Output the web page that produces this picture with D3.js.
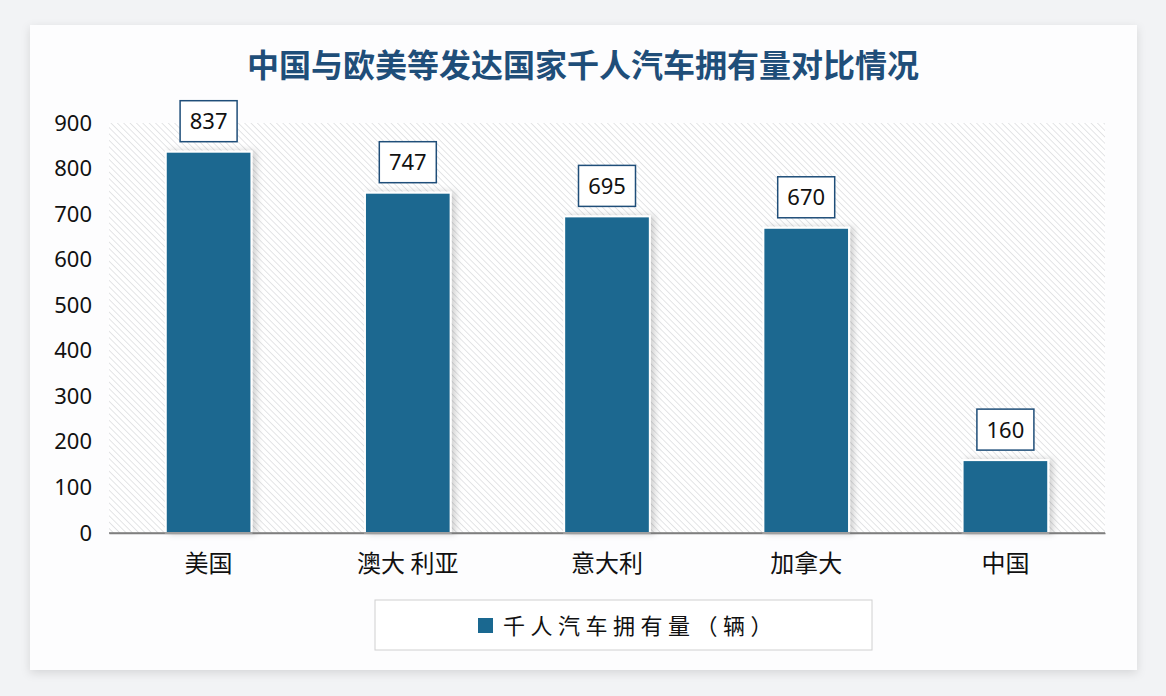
<!DOCTYPE html>
<html>
<head>
<meta charset="utf-8">
<script src="https://cdn.jsdelivr.net/npm/d3@7"></script>
<style>
  body { margin: 0; background: #f2f3f5; font-family: "Noto Sans CJK SC", "Noto Sans", sans-serif; }
</style>
</head>
<body>
<div id="chart"></div>
<script>
var countries = ["美国", "澳大 利亚", "意大利", "加拿大", "中国"];
var carsPerThousand = [837, 747, 695, 670, 160];
var yTicks = [0, 100, 200, 300, 400, 500, 600, 700, 800, 900];
var chartTitle = "中国与欧美等发达国家千人汽车拥有量对比情况";
var seriesName = "千人汽车拥有量（辆）";

var svgWidth = 1166;
var svgHeight = 696;

var plot = { left: 109, right: 1105, top: 123, bottom: 533 };

var svg = d3.select("#chart")
  .append("svg")
  .attr("width", svgWidth)
  .attr("height", svgHeight);

var defs = svg.append("defs");

// card shadow
var shadow = defs.append("filter").attr("id", "cardShadow")
  .attr("x", "-5%").attr("y", "-5%").attr("width", "110%").attr("height", "115%");
shadow.append("feDropShadow")
  .attr("dx", 0).attr("dy", 3).attr("stdDeviation", 5)
  .attr("flood-color", "#000").attr("flood-opacity", 0.12);

// bar shadow
var barShadow = defs.append("filter").attr("id", "barShadow")
  .attr("x", "-20%").attr("y", "-20%").attr("width", "150%").attr("height", "140%");
barShadow.append("feDropShadow")
  .attr("dx", 4).attr("dy", 0).attr("stdDeviation", 3)
  .attr("flood-color", "#000").attr("flood-opacity", 0.18);

// hatch pattern for plot area
var hatch = defs.append("pattern")
  .attr("id", "hatch")
  .attr("patternUnits", "userSpaceOnUse")
  .attr("width", 4.5).attr("height", 4.5)
  .attr("patternTransform", "rotate(-45)");
hatch.append("rect").attr("width", 4.5).attr("height", 4.5).attr("fill", "#ffffff");
hatch.append("line")
  .attr("x1", 0).attr("y1", 0).attr("x2", 0).attr("y2", 4.5)
  .attr("stroke", "#d6d7da").attr("stroke-width", 1.3);

// card
svg.append("rect")
  .attr("x", 30).attr("y", 25)
  .attr("width", 1107).attr("height", 645)
  .attr("fill", "#fdfdfe")
  .attr("filter", "url(#cardShadow)");

// title
svg.append("text")
  .attr("x", 583).attr("y", 77)
  .attr("text-anchor", "middle")
  .attr("font-size", "32px")
  .attr("font-weight", "bold")
  .attr("fill", "#1f4e79")
  .text(chartTitle);

// scales
var xScale = d3.scaleBand()
  .domain(countries)
  .range([plot.left, plot.right])
  .paddingInner(0.57)
  .paddingOuter(0.285);

var yScale = d3.scaleLinear()
  .domain([0, 900])
  .range([plot.bottom, plot.top]);

// hatched plot area
svg.append("rect")
  .attr("x", plot.left).attr("y", plot.top)
  .attr("width", plot.right - plot.left)
  .attr("height", plot.bottom - plot.top)
  .attr("fill", "url(#hatch)");

// axes
var leftAxis = d3.axisLeft(yScale).tickValues(yTicks).tickSize(0).tickPadding(17);
var yAxisG = svg.append("g")
  .attr("transform", `translate(${plot.left}, 0)`)
  .call(leftAxis);
yAxisG.select(".domain").remove();
yAxisG.selectAll("text")
  .attr("font-size", "22px")
  .attr("fill", "#111")
  .attr("font-family", "\"Noto Sans\", sans-serif");

var bottomAxis = d3.axisBottom(xScale).tickSize(0).tickPadding(22);
var xAxisG = svg.append("g")
  .attr("transform", `translate(0, ${plot.bottom})`)
  .call(bottomAxis);
xAxisG.select(".domain").attr("stroke", "#7f7f7f").attr("stroke-width", 1.5);
xAxisG.selectAll("text")
  .attr("font-size", "24px")
  .attr("fill", "#111")
  .attr("font-family", "\"Noto Sans CJK SC\", sans-serif");

var data = countries.map(function(c, i) { return { name: c, value: carsPerThousand[i] }; });

// bars
svg.selectAll(".bar")
  .data(data)
  .enter()
  .append("rect")
  .attr("class", "bar")
  .attr("x", d => xScale(d.name))
  .attr("y", d => yScale(d.value))
  .attr("width", xScale.bandwidth())
  .attr("height", d => plot.bottom - yScale(d.value))
  .attr("fill", "#1a6890")
  .attr("stroke", "#ffffff")
  .attr("stroke-width", 2)
  .attr("filter", "url(#barShadow)");

// redraw baseline above bars
svg.append("line")
  .attr("x1", plot.left).attr("x2", plot.right)
  .attr("y1", plot.bottom).attr("y2", plot.bottom)
  .attr("stroke", "#7f7f7f").attr("stroke-width", 1.5);

// value labels in boxes
var labelW = 57, labelH = 41;
var labels = svg.selectAll(".valueLabel")
  .data(data)
  .enter()
  .append("g")
  .attr("class", "valueLabel")
  .attr("transform", d => `translate(${xScale(d.name) + xScale.bandwidth() / 2}, ${yScale(d.value) - 10 - labelH})`);

labels.append("rect")
  .attr("x", -labelW / 2).attr("y", 0)
  .attr("width", labelW).attr("height", labelH)
  .attr("fill", "#ffffff")
  .attr("stroke", "#1f4e79")
  .attr("stroke-width", 1.5);

labels.append("text")
  .attr("x", 0).attr("y", labelH / 2 + 8)
  .attr("text-anchor", "middle")
  .attr("font-size", "22px")
  .attr("fill", "#111")
  .attr("font-family", "\"Noto Sans\", sans-serif")
  .text(d => d.value);

// legend
var legend = svg.append("g");
legend.append("rect")
  .attr("x", 375).attr("y", 600)
  .attr("width", 497).attr("height", 50)
  .attr("fill", "#ffffff")
  .attr("stroke", "#d0d0d0")
  .attr("stroke-width", 1);
legend.append("rect")
  .attr("x", 478).attr("y", 618)
  .attr("width", 15).attr("height", 15)
  .attr("fill", "#1a6890");
legend.append("text")
  .attr("x", 503).attr("y", 634)
  .attr("font-size", "22px")
  .attr("fill", "#111")
  .attr("letter-spacing", "5.5px")
  .text(seriesName);
</script>
</body>
</html>
